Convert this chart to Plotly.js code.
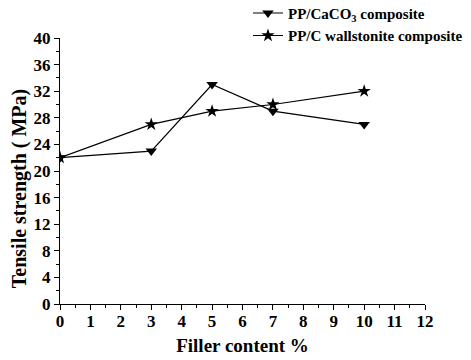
<!DOCTYPE html>
<html><head><meta charset="utf-8">
<script src="https://cdn.plot.ly/plotly-3.0.1.min.js"></script>
<style>html,body{margin:0;padding:0;background:#fff}#chart{width:471px;height:360px}</style>
</head><body><div id="chart"></div>
<script>
const fillerContent = [0, 3, 5, 7, 10];
const caco3Strength = [22, 23, 33, 29, 27];
const wollastoniteStrength = [22, 27, 29, 30, 32];
const seriesNames = ["PP/CaCO<sub>3</sub> composite", "PP/C wallstonite composite"];
const xTickValues = [0, 1, 2, 3, 4, 5, 6, 7, 8, 9, 10, 11, 12];
const yTickValues = [0, 4, 8, 12, 16, 20, 24, 28, 32, 36, 40];
const xTitle = "Filler content %";
const yTitle = "Tensile strength ( MPa)";

const fam = "Liberation Serif";
const traces = [
  {x: fillerContent, y: caco3Strength, name: seriesNames[0], mode: "lines+markers",
   line: {color: "#000", width: 1.2}, marker: {symbol: "triangle-down", size: 10, color: "#000"}},
  {x: fillerContent, y: wollastoniteStrength, name: seriesNames[1], mode: "lines+markers",
   line: {color: "#000", width: 1.2}, marker: {symbol: "star", size: 10, color: "#000"}}
];
function axis(extra) {
  return Object.assign({showgrid: false, zeroline: false, showline: true, linecolor: "#000", linewidth: 1,
    ticks: "outside", ticklen: 5, tickwidth: 1, tickcolor: "#000", tickmode: "array",
    tickfont: {family: fam, size: 17, color: "#000", weight: 700}}, extra);
}
const layout = {
  width: 471, height: 360,
  margin: {l: 60, r: 46, t: 38, b: 56, autoexpand: false},
  paper_bgcolor: "#fff", plot_bgcolor: "#fff",
  font: {family: fam, size: 17, color: "#000"},
  showlegend: true,
  legend: {x: 0.515, y: 1.155, xanchor: "left", yanchor: "top", bgcolor: "rgba(0,0,0,0)",
    font: {family: fam, size: 15, color: "#000", weight: 700}, itemwidth: 30, tracegroupgap: 0},
  xaxis: axis({range: [0, 12], tickvals: xTickValues, ticktext: xTickValues.map(String),
    ticklabelstandoff: -3,
    minor: {tickmode: "linear", tick0: 0, dtick: 0.5, ticks: "outside", ticklen: 3, tickcolor: "#000"},
    title: {text: xTitle, standoff: 8, font: {family: fam, size: 19, color: "#000", weight: 700}}}),
  yaxis: axis({range: [0, 40], tickvals: yTickValues, ticktext: yTickValues.map(String),
    minor: {tickmode: "linear", tick0: 0, dtick: 2, ticks: "outside", ticklen: 3, tickcolor: "#000"}}),
  annotations: [{text: yTitle, xref: "paper", yref: "paper", x: -0.112, y: 0.432,
    xanchor: "center", yanchor: "middle", textangle: -90, showarrow: false,
    font: {family: fam, size: 20, color: "#000", weight: 700}}]
};
Plotly.newPlot("chart", traces, layout, {displayModeBar: false, staticPlot: true});
</script></body></html>
